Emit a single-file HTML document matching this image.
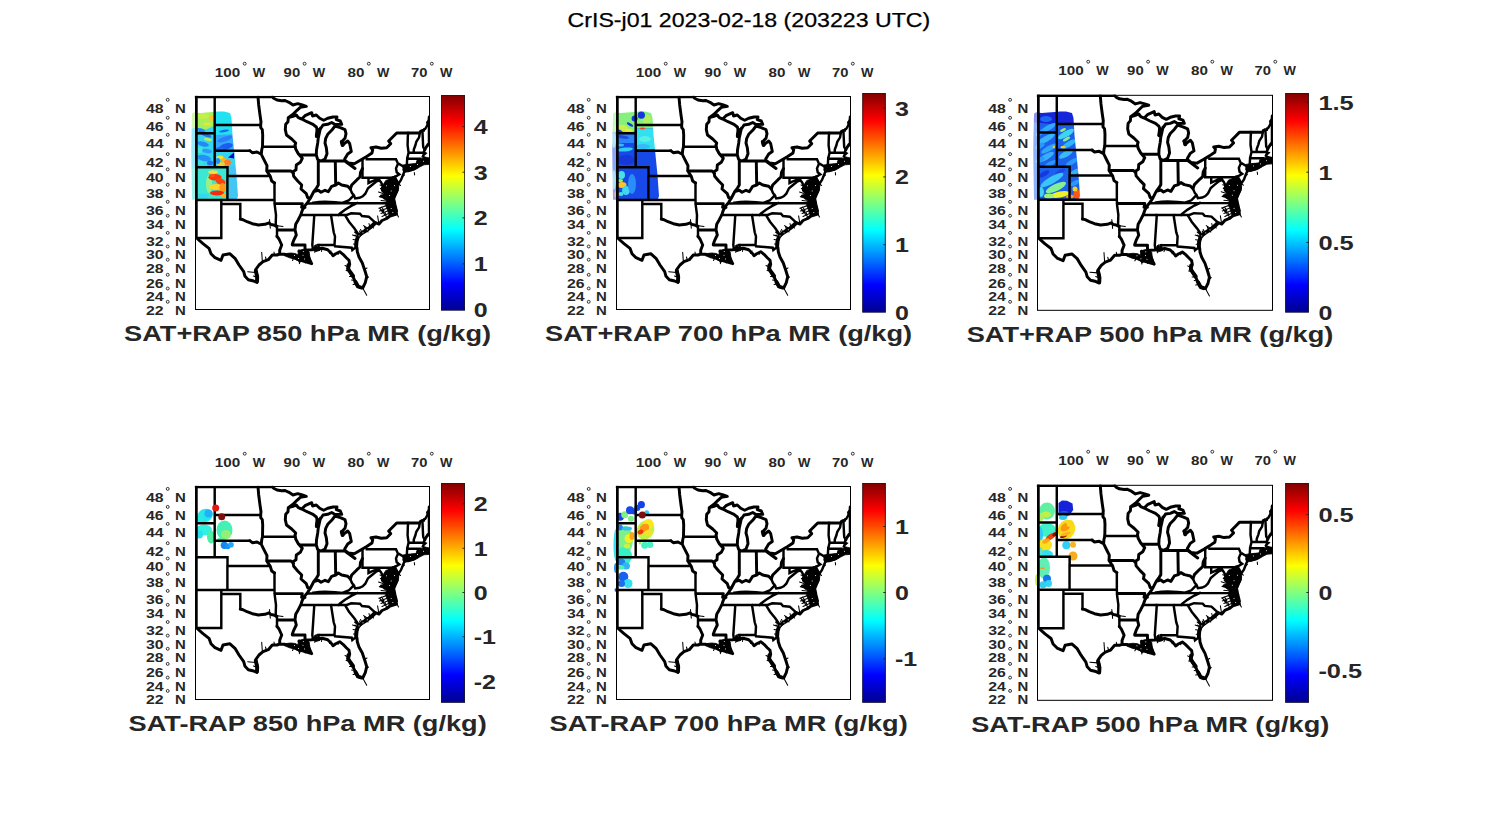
<!DOCTYPE html>
<html><head><meta charset="utf-8"><title>CrIS-j01</title>
<style>html,body{margin:0;padding:0;background:#fff}svg{display:block}</style></head><body>
<svg width="1500" height="825" viewBox="0 0 1500 825" style="font-family:'Liberation Sans',sans-serif">
<defs>
<linearGradient id="jet" x1="0" y1="1" x2="0" y2="0"><stop offset="0" stop-color="#00008f"/><stop offset="0.125" stop-color="#0000ff"/><stop offset="0.25" stop-color="#0080ff"/><stop offset="0.375" stop-color="#00ffff"/><stop offset="0.5" stop-color="#80ff80"/><stop offset="0.625" stop-color="#ffff00"/><stop offset="0.75" stop-color="#ff8000"/><stop offset="0.875" stop-color="#ff0000"/><stop offset="1" stop-color="#800000"/></linearGradient>
<filter id="b1" x="-20%" y="-20%" width="140%" height="140%"><feGaussianBlur stdDeviation="0.7"/></filter>
<filter id="b2" x="-20%" y="-20%" width="140%" height="140%"><feGaussianBlur stdDeviation="0.4"/></filter>
<clipPath id="mc"><rect x="-0.2" y="0.8" width="235.2" height="214.2"/></clipPath>
<g id="usmap" fill="none" stroke="#000" stroke-linejoin="miter" stroke-miterlimit="2" stroke-linecap="butt">
<g clip-path="url(#mc)">
<path stroke-width="2.45" stroke-linecap="square" d="M1.5 1.5 L1.5 143 M0.5 1.9 L77.5 1.9 M19.7 1.9 L19.7 72.3 M1.5 38.3 L19.7 38.3 M19.7 30 L65.7 30 M19.7 55.7 L54.7 55.7 M79.5 88 L79.5 105 L79.7 110 L81 120 L80.7 129.3 L81.5 131.3 L82 131.3 L82 141.3 M67.5 51.7 L100 51.7 M1.5 72.3 L32.5 72.3 L32.5 81 L74.5 81 M32.4 81 L32.4 105 M1.5 105 L79.5 105 M26.3 105 L26.3 143 L1.5 143 M26.3 109 L45.3 109 L45.3 124 M167.5 64.3 L167.5 82.7 L197 82.7 M171.7 64.3 L201 64.3 L203 68.7 L201 73.3 L201.7 77.3 L204.3 79.3 L199.7 82 L197 82.7 M155.3 94 L157 98 L158.8 100.3 M158.8 100.3 L160.2 103.4 L164.5 102.8 L167.7 101.3 L170.3 98.7 L173 93.3 L177 90 L181 86.7 L184.3 85.3 M173.5 82.7 L173.5 88 L176.3 86.7 L181 84.7 L184.3 85.3 M184.3 85.3 L186 87.3 L188 91.3 L187 94 L190 96.7 L194.5 96.7 M158.8 100.3 L153.7 105.5 L148 107.7 M112.5 108.4 L148 108.2 L198 108.3 M118.5 107.6 L124 106.9 L130 106.7 L140 107.2 L148 108 M162 108.2 L156.7 110.7 L150 114.7 L144.7 118.7 L143.5 120 M106 120 L151.7 120 L156.3 118.3 L165 118.7 L167 121 L173.7 121.7 L180.3 127.7 M119.3 120 L117.3 150 L118 154.5 M136 120 L138.7 137.3 L140 141.3 L139.5 150 M123.3 150 L139.5 150 M123.3 150 L124 154.5 M139.5 150 L140 151.3 L156.7 152.7 L157.3 155 L159 153.5 L161.5 152.5 M150.5 121 L154 126.7 L159.3 133.3 L162.6 138 L163.5 141 M199.7 82 L202 86 L203.1 89.2 L206 85 L208 80 L209.3 76.8 L209 74.8 L209.6 72.3 M204.7 69.3 L209.6 72.3 M213.1 38 L212.8 42.4 L212.6 50.3 L213.6 57.6 L212.2 63.5 L211.8 69.8 L211.2 72.3 M224.8 38 L224.1 42.4 L221.3 46.8 L220.4 50.3 L218.8 54.6 L218.7 57.7 M213.6 57.7 L229 57.7 L230.4 58.4 L228.5 60.1 L227.9 61.4 L229.8 63.1 L230.1 64.4 L231.1 65.8 L234.2 66 M212.2 63.6 L222.9 63.8 L225.5 63.8 L225.5 64.8 L226.7 66.9 L227.3 68.1 M222.9 63.8 L222.9 69.6 M231.1 65.8 L229.8 67.7 L227.3 68.1 L225.4 68.6 L222.9 69.6 M225.4 68.6 L225.7 66 M234.2 64.8 L233 63.5 L233.9 65.6 M227.4 35.3 L227.7 41.5 L228 48.5 L228.2 52 L229.8 54.8 L229 56.5 L229 57.7 M224.8 38 L225.4 36.1 L227.4 35.3 L228.9 35.5 L229.2 34.3 L230.1 34 L231.7 31.3 L232.6 29.5 L232.3 27.3 L233.9 25.3 L234.3 22.7"/>
<path stroke-width="2.95" stroke-linejoin="round" stroke-linecap="round" d="M63 1.9 L63.7 10 L65 20 L66 26.7 L65.7 30 L65.7 32.7 L67.3 34.7 L67.7 40 L67.5 51.7 L66.7 55 L66.3 59.3 M54.7 55.7 L57.3 57.7 L62 57 L66.3 59.3 L69.3 65.3 L72 70.7 L71.7 76 L75.3 81.3 L76.7 86 L79.5 88 M82 141.3 L84 144 L86.7 150 L84.7 155.3 L84.7 159.3 M45.3 124 L48 124.7 L52 126.7 L57.3 128.7 L63.3 130 L70 129.3 L74 127.8 L76 129.5 L78.7 130 L81.5 131.3 M2.7 144 L8 148.7 L14 153.3 L16 158.7 L20 162.7 L26 165.3 L28 160 L34.7 158.7 L40 163.3 L44 170 L48.7 176.7 L50 181.3 L53.3 184.7 L58.7 186 L62 187.5 M62 187.5 L62.3 181.3 L60.7 174.7 L64 170 L68 166.7 L73.3 164.7 L77.3 160 L82 160 L84.7 159 L90 159.3 L94.7 160.7 L100 162.7 L103.3 164.7 L110 166.7 L116.7 168.7 L113.3 162 L112 156.7 L110 155.3 L116.7 154.7 L120 154 L121.3 154 L127.3 153.3 L132.7 154.7 L136.7 158.7 L138 160.7 L140.7 158.7 L144.7 156.7 L148 159.3 L151.3 162.7 L154 165.3 L154.7 169.3 L153 173.5 L155.3 177.3 L158.3 182.3 L160 186 L163 191.7 L167.7 193 L170.3 187.7 L171.7 181.7 L170 176 L167.3 168 L164 162 L162.3 156.7 L162 153 L161 151 L161.3 146 L162.8 142 L165.3 139.5 L169 136.8 L173 134 L177 131 L180.3 127.7 L184 129 L187 125.5 L191.7 123.5 L195 121 L201.5 119 L200.5 114 L198 108.3 L196.5 105 M104 156 L108 157.5 L112 158.5 L115 165 M98 161.5 L104 162.5 L110 164.5 L114 166.5 M105 159.5 L111 161.5 L114 163.5 M106 156.5 L110 160 L113 165.5 M100 50 L100.7 54 L103.3 58.7 L107.3 63.3 L105.3 67.3 L101.3 70 L101 74.7 L98 76.7 L98.7 81.3 L102.7 86 L106.7 90 L106 94 L111.3 98.7 L112.7 102.7 L115.3 103.3 L112.7 107.3 L110 110.7 L107.3 115.3 L106 119.3 L103.3 124.7 L100.7 129.3 L100 134.7 L101.3 140 L98.7 145.3 L97.3 149.3 L97.3 150 L110 150 L110 155.3 M71.7 76 L96 76 L98.5 78.5 M80 108.6 L107.3 108.6 L106.6 112.4 L110 112.4 M82.7 135 L100 135 M105.3 60 L121.3 60 M100 51 L100.7 48 L96.7 44 L91.5 40 L90.3 34.7 L90.7 29.3 L93 26.7 L93.3 22.7 M93.3 22.7 L98 19.3 L102 15.3 L105.3 12.3 L111.3 11.3 L107.3 10 L102.7 8.7 L98 10 L94 7.3 L90 5.5 L86.7 5.7 L82 5 L78.7 3.3 L77.5 1.9 M93.3 22.7 L98 21.3 L101.3 20 L103.3 22.7 L106.7 24 L110 20.7 L116.7 17.7 L117.5 21 L121.3 20 L124.7 23.3 L128.7 25.3 L132.7 23.3 L138 22 L142 22 L141.3 24.7 L145.3 26 L146.7 29.3 L142 29.5 L140 29.5 L136.7 27.5 L132.7 29.3 L128 30 L126 33 L123 37 M100.5 20.5 L102.5 21.5 M106.7 24 L112 26.7 L118 29.3 L121.3 32 L122.7 36 L121.5 41.3 L123.5 42 L125.5 33 L124 38 L123.3 42.7 L122.7 48 L121.5 55 L121.3 60 L122.7 64.7 L126 66 L130 64 L132 58.7 L131.3 52.7 L130 48 L130.7 43.3 L132.7 39.3 L136.7 35.3 L140 31 L145.3 32.7 L150 34.7 L151 38.7 L150 43.3 L146.7 46.7 L147.5 50 L150 48 L152.7 46 L154.7 48.7 L156 55 L156.3 56.5 L152.7 59 L149.7 64 L150 65.3 M146.5 47 L148 49.5 M150 65.3 L153.3 68 L159.3 68.7 L165.3 65.3 L171.7 61.5 L177 58 L177.7 54.7 L176 52.7 L181 52 L186.3 53.3 L191.7 52.7 L195.7 48.7 L193.7 46 L197.7 42 L201.7 38 L224.8 38 M123.3 66 L148.7 66 L150 65.3 M123.3 66 L123.3 90 L121.3 93.3 L118.7 96.7 M140.3 66 L140.7 90 M115.3 103.3 L118.7 96.7 L123.3 95.3 L126 97.3 L130 95.3 L133.3 96.7 L136.7 91.3 L140.7 90 L143.3 88 L146.7 90 L152.7 91.3 L155.3 94 L156.7 90 L162 84.7 L165 82 L165.5 77.5 L167.5 73.5 M150.5 66.5 L160 73.5 M197.7 82.7 L197.7 93.1 L202.4 93.1 M199.7 82 L200 86 L201.5 90 L202.4 93.1 L201 98 L199 103 L196.6 104 M196.6 104 L196 99 L195 95 L194.5 90 L195.5 86 L196 83.5 M195.5 84.5 L193 87 L192.5 91 L193 95 L194.5 96.7 L194 100 L195 104 L196.5 106 M194 100 L190 101.5 L186.5 101 M194.2 98.5 L190 98 L187.5 95.5 M193 93 L189.5 92.5 M195 88 L196.5 92 L197.5 97 L198 101 M193.5 102 L196 102.5 L198.5 105 M209 74.8 L213 75.8 L218 74.3 L222.5 71.7 L218 72.5 L213 72.8 L210.5 73.3 M211.2 72.3 L214 70.8 L218 70.1 L222.9 69.6 L226 69 L227.3 68.1 M210 74 L216 73.8 L221 72.3 M212 71.5 L217 71.2 L222 70.5 M229.8 54.8 L230.7 52.9 L232.3 50.7 L233 49.4 L234.3 48.4 M234.2 22 L234.2 50"/>
<path stroke-width="3.9" stroke-linejoin="round" stroke-linecap="round" d="M179.5 128.5 L176.5 131.5 L172.5 134.5 L168.5 137 L165 139.5 L162.8 142 L161.5 146.5 L161.2 151 M153.5 170 L153.2 174 L155.5 177.5 L158 181 M160.5 187 L163 191.5 L166 192.5 M122.5 35 L121.8 41 M60.8 176 L62.2 182 L62 186.5 M146.8 46.8 L147.6 50 M198.5 105 L199.5 110 L201 116"/>
<path stroke-width="1.05" stroke-linecap="round" d="M82 130.8 L88 131.4 M183.8 113.2 L190.5 111 M184.5 116 L191.5 113.5 M186 118.5 L192.5 116 M187 121.5 L193.5 118.5 M189.5 123.8 L194.5 121 M186.5 112 L189 115.5 M188 115 L189.5 120 M190 117 L191.5 122.5 M185.5 114.5 L188 118 M157.5 140 L162 141.5 M158 144.5 L161.5 145 M158.5 149 L161 149 M159.5 137 L163 140 M165.5 134.5 L167.5 138.5 M169.5 131.5 L171 136 M174 128.5 L175 133 M160.5 136.5 L164 139.5 M185.4 93.5 L190 95 M185 90 L189 91.5 M184.3 101.7 L191 103.2 M183.5 97 L188 98.5 M186 105.5 L191 106 M168.6 130.6 L173.5 133.8 M182.6 120.9 L183.8 128.4 M184.5 113.2 L189 117.5 M164.5 136 L166.2 139.2 M160 140 L162.5 142 M184.3 101.7 L188.5 99.5 M184.3 113.2 L190 111 M201.7 118.6 L203.5 122 M199 112 L201.5 118 M150 170.5 L153 172 M151 175.5 L154 176 M154.5 181.5 L157.5 181.5 M156.5 185 L159.5 185.5 M158 189.5 L161.5 189 M104.4 168.6 L104.4 165 M110.2 168 L111 165 M116.7 169.5 L114.5 165 M97.5 165.5 L99 162.5 M119.8 157.5 L120.5 154 M126.5 156.5 L127 153.5 M134.5 158.5 L136 156 M143 159.5 L144.5 156.5 M66.7 157.3 L67.3 165.8 M52.7 176.7 L60.5 177.4 M74.5 124.5 L75.3 133.3 M58.5 181 L62 182.5 M70.5 162 L71.5 166 M79 157 L79.5 160.5 M167.7 193 L171.7 200.3 M150.5 66.5 L160 73.7 M172 173 L169 174.5 M173.5 182 L171 184 M176 130 L178.5 133 M171 133.5 L173 137 M205.5 90.5 L203 88.5 M206.5 82 L209.5 80 M219.3 77.5 L219.6 80 M196.5 112 L193.5 114.5"/>
<path fill="#000" stroke-width="0.8" stroke-linejoin="round" d="M190.8 85.4 L196.8 83.4 L200 84 L203 86.5 L203.9 89.2 L203.4 95.7 L201.2 99.5 L197.9 103.4 L196.8 106.1 L197.6 108.5 L191 108.5 L191.4 105.5 L187.5 103 L189.2 97.9 L185.8 93.5 L188.1 89.7Z M191 108.5 L197.6 108.5 L199 112.1 L201.2 116 L201.9 119.3 L197.5 120.3 L194.5 121.5 L193.2 117.5 L191.8 113 L190.5 110.5Z M207.7 70 L212.8 69.2 L221 68.6 L222 65.5 L226.4 63.8 L230 62 L234.3 63 L234.3 69.4 L229 69.8 L224.7 72 L219.6 75 L214.1 76.2 L210.5 77.3 L209 77.5 L208 74Z M103.3 155.9 L106.9 154.5 L110.9 154.1 L114.2 157 L114.9 162.5 L116.7 169 L112 166.5 L107.6 165.7 L104.4 167.6 L103.3 165.7 L98.9 163.9 L94.5 162.8 L89.1 160.6 L89.1 159.3 L92.7 158.3 L96 158 L100.4 158.5 L103 160Z M119.5 150.5 L121.5 149.5 L122.5 153 L125 155.3 L121 156.6 L118 155.5Z"/>
<g fill="#fff" stroke="none"><rect x="191.05" y="90.35" width="0.9" height="0.9"/><rect x="199.15" y="90.15" width="0.9" height="0.9"/><rect x="194.05" y="100.05" width="0.9" height="0.9"/><rect x="195.75" y="95.55" width="0.9" height="0.9"/><rect x="195.75" y="113.05" width="0.9" height="0.9"/><rect x="197.35" y="117.05" width="0.9" height="0.9"/><rect x="215.05" y="71.05" width="0.9" height="0.9"/><rect x="222.05" y="69.05" width="0.9" height="0.9"/><rect x="228.05" y="65.85" width="0.9" height="0.9"/><rect x="99.05" y="160.05" width="0.9" height="0.9"/><rect x="107.55" y="159.85" width="0.9" height="0.9"/><rect x="107.85" y="156.15" width="0.9" height="0.9"/><rect x="109.05" y="163.55" width="0.9" height="0.9"/><rect x="103.05" y="163.05" width="0.9" height="0.9"/><rect x="167.55" y="137.35" width="0.9" height="0.9"/><rect x="163.55" y="140.35" width="0.9" height="0.9"/><rect x="171.85" y="134.35" width="0.9" height="0.9"/></g>
</g>
<rect x="0.5" y="1.5" width="234" height="213" stroke-width="1" stroke-linejoin="miter"/>
</g>
</defs>
<rect width="1500" height="825" fill="#fff"/>
<text stroke="#000" stroke-width="0.25" x="567.6" y="27" font-size="20.4" fill="#000" textLength="362.6" lengthAdjust="spacingAndGlyphs">CrIS-j01 2023-02-18 (203223 UTC)</text>
<g><defs><clipPath id="sw1"><polygon points="192,114 194,112.6 200,113 206,112.5 213,112 218,111.5 224,111.5 230,113 231.5,118 232.5,135 234.5,155 236.5,175 238,196 237,199 192,199.5 191.5,150" fill="#000"/></clipPath></defs><g clip-path="url(#sw1)"><g filter="url(#b1)"><polygon points="188,108 242,108 242,203 188,203" fill="#35d4f2"/><polygon points="188,108 214,108 214,126 206,129.5 197,127.5 188,129" fill="#a6f05c"/><ellipse cx="203" cy="116" rx="6" ry="3" fill="#c4f048"/><ellipse cx="211.5" cy="118" rx="2" ry="3" fill="#ffc428"/><ellipse cx="207" cy="124" rx="4" ry="1.6" fill="#e8e830"/><polygon points="216,108 240,108 240,134 216,135" fill="#22e2f2"/><ellipse cx="205" cy="134" rx="7" ry="2.2" fill="#2070f0" transform="rotate(25 205 134)"/><ellipse cx="201" cy="130" rx="4" ry="1.5" fill="#2888f0" transform="rotate(20 201 130)"/><ellipse cx="208" cy="139.5" rx="4" ry="1.5" fill="#b8f058" transform="rotate(10 208 139.5)"/><ellipse cx="203" cy="144" rx="6" ry="2.2" fill="#2488f4" transform="rotate(15 203 144)"/><ellipse cx="199" cy="150" rx="4" ry="3" fill="#40e8d8"/><ellipse cx="207" cy="151" rx="5" ry="2" fill="#2c9cf8" transform="rotate(10 207 151)"/><ellipse cx="204" cy="158" rx="7" ry="3" fill="#2890f8" transform="rotate(10 204 158)"/><ellipse cx="199" cy="163" rx="4" ry="2.5" fill="#38e0e0"/><ellipse cx="210" cy="163" rx="3" ry="2.5" fill="#2478f0"/><polygon points="216,135 240,134 240,151 216,151" fill="#34a8fc"/><ellipse cx="224" cy="131" rx="5" ry="1.2" fill="#1870e8" transform="rotate(-10 224 131)"/><ellipse cx="225" cy="139" rx="8" ry="2.4" fill="#2c80f8" transform="rotate(-20 225 139)"/><ellipse cx="226" cy="146.5" rx="7" ry="3" fill="#1a5cf0" transform="rotate(-15 226 146.5)"/><ellipse cx="220" cy="149" rx="4" ry="2" fill="#2468f0"/><ellipse cx="220" cy="157.5" rx="3.5" ry="2" fill="#f0e434"/><ellipse cx="224" cy="160" rx="3" ry="2" fill="#ffb020"/><ellipse cx="227.5" cy="162.5" rx="3.5" ry="3" fill="#ff7c20"/><ellipse cx="221" cy="164" rx="4" ry="2" fill="#f0d030"/><ellipse cx="218" cy="161" rx="2" ry="3" fill="#2c8cf8"/><polygon points="228,157.5 234.8,151.8 234,158.5" fill="#0c0cc0"/><polygon points="188,168 228,168 228,203 188,203" fill="#3ce8d2"/><ellipse cx="209" cy="184" rx="3" ry="9" fill="#98f088"/><ellipse cx="215" cy="177.3" rx="6.5" ry="3.2" fill="#ff3408"/><ellipse cx="212" cy="175.5" rx="3" ry="1.6" fill="#ff5010"/><ellipse cx="220.5" cy="181.5" rx="5.2" ry="3.2" fill="#ff4008" transform="rotate(20 220.5 181.5)"/><ellipse cx="216" cy="187" rx="7" ry="3" fill="#ffd424"/><ellipse cx="222.5" cy="188" rx="3" ry="5" fill="#ff9414"/><ellipse cx="217" cy="193" rx="7" ry="2.5" fill="#f82c08"/><ellipse cx="224" cy="195.5" rx="2.5" ry="2" fill="#ffb020"/><ellipse cx="213" cy="172" rx="5" ry="1.8" fill="#f0e040"/><ellipse cx="203" cy="196" rx="6" ry="2.5" fill="#36d8f0"/><polygon points="229,166 242,166 242,203 229,203" fill="#42c6f4"/></g><rect x="188" y="105" width="7.3" height="100" fill="#fff" fill-opacity="0.5"/></g></g>
<use href="#usmap" transform="translate(195 95) scale(1.00000 1.00000)"/>
<g></g>
<rect x="441" y="95" width="24" height="215.5" fill="url(#jet)"/>
<rect x="441.5" y="95.5" width="23" height="214.5" fill="none" stroke="#1a1a1a" stroke-opacity="0.8" stroke-width="1"/>
<path d="M462.4 126.6h2.6" stroke="#222" stroke-width="0.9"/>
<text x="473.7" y="134.1" font-size="20.4" font-weight="bold" fill="#262626" textLength="13.9" lengthAdjust="spacingAndGlyphs">4</text>
<path d="M462.4 172.2h2.6" stroke="#222" stroke-width="0.9"/>
<text x="473.7" y="179.7" font-size="20.4" font-weight="bold" fill="#262626" textLength="13.9" lengthAdjust="spacingAndGlyphs">3</text>
<path d="M462.4 217.9h2.6" stroke="#222" stroke-width="0.9"/>
<text x="473.7" y="225.4" font-size="20.4" font-weight="bold" fill="#262626" textLength="13.9" lengthAdjust="spacingAndGlyphs">2</text>
<path d="M462.4 263.9h2.6" stroke="#222" stroke-width="0.9"/>
<text x="473.7" y="271.4" font-size="20.4" font-weight="bold" fill="#262626" textLength="13.9" lengthAdjust="spacingAndGlyphs">1</text>
<text x="473.7" y="317.2" font-size="20.4" font-weight="bold" fill="#262626" textLength="13.9" lengthAdjust="spacingAndGlyphs">0</text>
<text x="214.8" y="77" font-size="12.2" font-weight="bold" fill="#262626" textLength="25.5" lengthAdjust="spacingAndGlyphs">100</text>
<circle cx="244.7" cy="63.7" r="1.45" fill="none" stroke="#262626" stroke-width="0.95"/>
<text x="252.8" y="77" font-size="12.2" font-weight="bold" fill="#262626" textLength="12.4" lengthAdjust="spacingAndGlyphs">W</text>
<text x="283.6" y="77" font-size="12.2" font-weight="bold" fill="#262626" textLength="16.6" lengthAdjust="spacingAndGlyphs">90</text>
<circle cx="304.6" cy="63.7" r="1.45" fill="none" stroke="#262626" stroke-width="0.95"/>
<text x="312.7" y="77" font-size="12.2" font-weight="bold" fill="#262626" textLength="12.4" lengthAdjust="spacingAndGlyphs">W</text>
<text x="347.5" y="77" font-size="12.2" font-weight="bold" fill="#262626" textLength="16.9" lengthAdjust="spacingAndGlyphs">80</text>
<circle cx="368.8" cy="63.7" r="1.45" fill="none" stroke="#262626" stroke-width="0.95"/>
<text x="376.9" y="77" font-size="12.2" font-weight="bold" fill="#262626" textLength="12.4" lengthAdjust="spacingAndGlyphs">W</text>
<text x="411" y="77" font-size="12.2" font-weight="bold" fill="#262626" textLength="16.4" lengthAdjust="spacingAndGlyphs">70</text>
<circle cx="431.8" cy="63.7" r="1.45" fill="none" stroke="#262626" stroke-width="0.95"/>
<text x="439.9" y="77" font-size="12.2" font-weight="bold" fill="#262626" textLength="12.4" lengthAdjust="spacingAndGlyphs">W</text>
<text x="145.9" y="112.7" font-size="12.2" font-weight="bold" fill="#262626" textLength="17.6" lengthAdjust="spacingAndGlyphs">48</text>
<circle cx="167.7" cy="99.8" r="1.45" fill="none" stroke="#262626" stroke-width="0.95"/>
<text x="175" y="112.7" font-size="12.2" font-weight="bold" fill="#262626" textLength="10.8" lengthAdjust="spacingAndGlyphs">N</text>
<text x="145.9" y="130.7" font-size="12.2" font-weight="bold" fill="#262626" textLength="17.6" lengthAdjust="spacingAndGlyphs">46</text>
<circle cx="167.7" cy="117.8" r="1.45" fill="none" stroke="#262626" stroke-width="0.95"/>
<text x="175" y="130.7" font-size="12.2" font-weight="bold" fill="#262626" textLength="10.8" lengthAdjust="spacingAndGlyphs">N</text>
<text x="145.9" y="147.7" font-size="12.2" font-weight="bold" fill="#262626" textLength="17.6" lengthAdjust="spacingAndGlyphs">44</text>
<circle cx="167.7" cy="134.8" r="1.45" fill="none" stroke="#262626" stroke-width="0.95"/>
<text x="175" y="147.7" font-size="12.2" font-weight="bold" fill="#262626" textLength="10.8" lengthAdjust="spacingAndGlyphs">N</text>
<text x="145.9" y="167" font-size="12.2" font-weight="bold" fill="#262626" textLength="17.6" lengthAdjust="spacingAndGlyphs">42</text>
<circle cx="167.7" cy="154.1" r="1.45" fill="none" stroke="#262626" stroke-width="0.95"/>
<text x="175" y="167" font-size="12.2" font-weight="bold" fill="#262626" textLength="10.8" lengthAdjust="spacingAndGlyphs">N</text>
<text x="145.9" y="182.3" font-size="12.2" font-weight="bold" fill="#262626" textLength="17.6" lengthAdjust="spacingAndGlyphs">40</text>
<circle cx="167.7" cy="169.4" r="1.45" fill="none" stroke="#262626" stroke-width="0.95"/>
<text x="175" y="182.3" font-size="12.2" font-weight="bold" fill="#262626" textLength="10.8" lengthAdjust="spacingAndGlyphs">N</text>
<text x="145.9" y="197.7" font-size="12.2" font-weight="bold" fill="#262626" textLength="17.6" lengthAdjust="spacingAndGlyphs">38</text>
<circle cx="167.7" cy="184.8" r="1.45" fill="none" stroke="#262626" stroke-width="0.95"/>
<text x="175" y="197.7" font-size="12.2" font-weight="bold" fill="#262626" textLength="10.8" lengthAdjust="spacingAndGlyphs">N</text>
<text x="145.9" y="214.7" font-size="12.2" font-weight="bold" fill="#262626" textLength="17.6" lengthAdjust="spacingAndGlyphs">36</text>
<circle cx="167.7" cy="201.8" r="1.45" fill="none" stroke="#262626" stroke-width="0.95"/>
<text x="175" y="214.7" font-size="12.2" font-weight="bold" fill="#262626" textLength="10.8" lengthAdjust="spacingAndGlyphs">N</text>
<text x="145.9" y="228.6" font-size="12.2" font-weight="bold" fill="#262626" textLength="17.6" lengthAdjust="spacingAndGlyphs">34</text>
<circle cx="167.7" cy="215.7" r="1.45" fill="none" stroke="#262626" stroke-width="0.95"/>
<text x="175" y="228.6" font-size="12.2" font-weight="bold" fill="#262626" textLength="10.8" lengthAdjust="spacingAndGlyphs">N</text>
<text x="145.9" y="245.8" font-size="12.2" font-weight="bold" fill="#262626" textLength="17.6" lengthAdjust="spacingAndGlyphs">32</text>
<circle cx="167.7" cy="232.9" r="1.45" fill="none" stroke="#262626" stroke-width="0.95"/>
<text x="175" y="245.8" font-size="12.2" font-weight="bold" fill="#262626" textLength="10.8" lengthAdjust="spacingAndGlyphs">N</text>
<text x="145.9" y="259.4" font-size="12.2" font-weight="bold" fill="#262626" textLength="17.6" lengthAdjust="spacingAndGlyphs">30</text>
<circle cx="167.7" cy="246.5" r="1.45" fill="none" stroke="#262626" stroke-width="0.95"/>
<text x="175" y="259.4" font-size="12.2" font-weight="bold" fill="#262626" textLength="10.8" lengthAdjust="spacingAndGlyphs">N</text>
<text x="145.9" y="272.6" font-size="12.2" font-weight="bold" fill="#262626" textLength="17.6" lengthAdjust="spacingAndGlyphs">28</text>
<circle cx="167.7" cy="259.7" r="1.45" fill="none" stroke="#262626" stroke-width="0.95"/>
<text x="175" y="272.6" font-size="12.2" font-weight="bold" fill="#262626" textLength="10.8" lengthAdjust="spacingAndGlyphs">N</text>
<text x="145.9" y="287.7" font-size="12.2" font-weight="bold" fill="#262626" textLength="17.6" lengthAdjust="spacingAndGlyphs">26</text>
<circle cx="167.7" cy="274.8" r="1.45" fill="none" stroke="#262626" stroke-width="0.95"/>
<text x="175" y="287.7" font-size="12.2" font-weight="bold" fill="#262626" textLength="10.8" lengthAdjust="spacingAndGlyphs">N</text>
<text x="145.9" y="301.4" font-size="12.2" font-weight="bold" fill="#262626" textLength="17.6" lengthAdjust="spacingAndGlyphs">24</text>
<circle cx="167.7" cy="288.5" r="1.45" fill="none" stroke="#262626" stroke-width="0.95"/>
<text x="175" y="301.4" font-size="12.2" font-weight="bold" fill="#262626" textLength="10.8" lengthAdjust="spacingAndGlyphs">N</text>
<text x="145.9" y="314.7" font-size="12.2" font-weight="bold" fill="#262626" textLength="17.6" lengthAdjust="spacingAndGlyphs">22</text>
<circle cx="167.7" cy="301.8" r="1.45" fill="none" stroke="#262626" stroke-width="0.95"/>
<text x="175" y="314.7" font-size="12.2" font-weight="bold" fill="#262626" textLength="10.8" lengthAdjust="spacingAndGlyphs">N</text>
<text x="124.1" y="340.7" font-size="22.4" font-weight="bold" fill="#262626" textLength="367.1" lengthAdjust="spacingAndGlyphs">SAT+RAP 850 hPa MR (g/kg)</text>
<g><defs><clipPath id="sw2"><polygon points="613,114 615,112.6 621,113 627,112.5 634,112 639,111.5 645,111.5 651,113 652.5,118 653.5,135 655.5,155 657.5,175 659,196 658,199 613,199.5 612.5,150" fill="#000"/></clipPath></defs><g clip-path="url(#sw2)"><g filter="url(#b1)"><polygon points="609,108 663,108 663,203 609,203" fill="#184ae8"/><polygon points="609,108 663,108 663,128.5 637,128.5 634,132 609,132.5" fill="#86f07c"/><ellipse cx="621" cy="128" rx="7" ry="3.2" fill="#c8f044"/><ellipse cx="628.5" cy="130.2" rx="4" ry="1.5" fill="#f0e834"/><ellipse cx="647" cy="120" rx="4" ry="5" fill="#b0f060"/><polygon points="637,128.5 660,128.5 660,149 637,149" fill="#30e0f2"/><ellipse cx="645" cy="139" rx="6" ry="3" fill="#58f0e4"/><ellipse cx="643" cy="146.5" rx="7" ry="2.5" fill="#38b8f8"/><polygon points="610,134 634,134 634,143 610,143" fill="#2c84f8"/><ellipse cx="623" cy="137" rx="6" ry="1.6" fill="#1a48e0" transform="rotate(10 623 137)"/><ellipse cx="625" cy="149.5" rx="8" ry="2" fill="#30ccf2" transform="rotate(-5 625 149.5)"/><ellipse cx="620" cy="145" rx="4" ry="1.5" fill="#34b8f4"/><ellipse cx="626" cy="160" rx="9" ry="5" fill="#1438d8"/><ellipse cx="621.5" cy="175" rx="3.5" ry="4" fill="#44e2e8"/><ellipse cx="620" cy="180.5" rx="3" ry="1.5" fill="#98f070"/><ellipse cx="622" cy="185" rx="4.5" ry="3" fill="#ffc424"/><ellipse cx="626" cy="190.5" rx="4" ry="4.5" fill="#40d6f0"/><ellipse cx="616.5" cy="194.5" rx="2.2" ry="3.5" fill="#ff6410"/><ellipse cx="621" cy="194" rx="2.5" ry="2" fill="#40e0e0"/><ellipse cx="632" cy="184" rx="4" ry="10" fill="#2c8ef8"/><ellipse cx="614" cy="140" rx="2" ry="8" fill="#60c8f0"/><ellipse cx="614" cy="180" rx="2" ry="10" fill="#50c0f0"/></g><rect x="609" y="105" width="7.3" height="100" fill="#fff" fill-opacity="0.5"/></g><g filter="url(#b2)"><ellipse cx="641.3" cy="115.2" rx="3.6" ry="3.6" fill="#1234e0"/><ellipse cx="634.6" cy="118.6" rx="3" ry="3" fill="#1838e0"/><ellipse cx="630" cy="124.6" rx="3.6" ry="1.3" fill="#1838e0" transform="rotate(30 630 124.6)"/><ellipse cx="619.5" cy="131" rx="3.2" ry="1.3" fill="#1838e0" transform="rotate(20 619.5 131)"/><ellipse cx="642.5" cy="128.4" rx="2.6" ry="1" fill="#f04820"/></g></g>
<use href="#usmap" transform="translate(616 95) scale(1.00000 1.00000)"/>
<g></g>
<rect x="862.3" y="93" width="23.5" height="219.5" fill="url(#jet)"/>
<rect x="862.8" y="93.5" width="22.5" height="218.5" fill="none" stroke="#1a1a1a" stroke-opacity="0.8" stroke-width="1"/>
<path d="M883.2 108h2.6" stroke="#222" stroke-width="0.9"/>
<text x="894.9" y="115.5" font-size="20.4" font-weight="bold" fill="#262626" textLength="13.9" lengthAdjust="spacingAndGlyphs">3</text>
<path d="M883.2 176.9h2.6" stroke="#222" stroke-width="0.9"/>
<text x="894.9" y="184.4" font-size="20.4" font-weight="bold" fill="#262626" textLength="13.9" lengthAdjust="spacingAndGlyphs">2</text>
<path d="M883.2 244.7h2.6" stroke="#222" stroke-width="0.9"/>
<text x="894.9" y="252.2" font-size="20.4" font-weight="bold" fill="#262626" textLength="13.9" lengthAdjust="spacingAndGlyphs">1</text>
<text x="894.9" y="319.7" font-size="20.4" font-weight="bold" fill="#262626" textLength="13.9" lengthAdjust="spacingAndGlyphs">0</text>
<text x="635.8" y="77" font-size="12.2" font-weight="bold" fill="#262626" textLength="25.5" lengthAdjust="spacingAndGlyphs">100</text>
<circle cx="665.7" cy="63.7" r="1.45" fill="none" stroke="#262626" stroke-width="0.95"/>
<text x="673.8" y="77" font-size="12.2" font-weight="bold" fill="#262626" textLength="12.4" lengthAdjust="spacingAndGlyphs">W</text>
<text x="704.6" y="77" font-size="12.2" font-weight="bold" fill="#262626" textLength="16.6" lengthAdjust="spacingAndGlyphs">90</text>
<circle cx="725.6" cy="63.7" r="1.45" fill="none" stroke="#262626" stroke-width="0.95"/>
<text x="733.7" y="77" font-size="12.2" font-weight="bold" fill="#262626" textLength="12.4" lengthAdjust="spacingAndGlyphs">W</text>
<text x="768.5" y="77" font-size="12.2" font-weight="bold" fill="#262626" textLength="16.9" lengthAdjust="spacingAndGlyphs">80</text>
<circle cx="789.8" cy="63.7" r="1.45" fill="none" stroke="#262626" stroke-width="0.95"/>
<text x="797.9" y="77" font-size="12.2" font-weight="bold" fill="#262626" textLength="12.4" lengthAdjust="spacingAndGlyphs">W</text>
<text x="832" y="77" font-size="12.2" font-weight="bold" fill="#262626" textLength="16.4" lengthAdjust="spacingAndGlyphs">70</text>
<circle cx="852.8" cy="63.7" r="1.45" fill="none" stroke="#262626" stroke-width="0.95"/>
<text x="860.9" y="77" font-size="12.2" font-weight="bold" fill="#262626" textLength="12.4" lengthAdjust="spacingAndGlyphs">W</text>
<text x="566.9" y="112.7" font-size="12.2" font-weight="bold" fill="#262626" textLength="17.6" lengthAdjust="spacingAndGlyphs">48</text>
<circle cx="588.7" cy="99.8" r="1.45" fill="none" stroke="#262626" stroke-width="0.95"/>
<text x="596" y="112.7" font-size="12.2" font-weight="bold" fill="#262626" textLength="10.8" lengthAdjust="spacingAndGlyphs">N</text>
<text x="566.9" y="130.7" font-size="12.2" font-weight="bold" fill="#262626" textLength="17.6" lengthAdjust="spacingAndGlyphs">46</text>
<circle cx="588.7" cy="117.8" r="1.45" fill="none" stroke="#262626" stroke-width="0.95"/>
<text x="596" y="130.7" font-size="12.2" font-weight="bold" fill="#262626" textLength="10.8" lengthAdjust="spacingAndGlyphs">N</text>
<text x="566.9" y="147.7" font-size="12.2" font-weight="bold" fill="#262626" textLength="17.6" lengthAdjust="spacingAndGlyphs">44</text>
<circle cx="588.7" cy="134.8" r="1.45" fill="none" stroke="#262626" stroke-width="0.95"/>
<text x="596" y="147.7" font-size="12.2" font-weight="bold" fill="#262626" textLength="10.8" lengthAdjust="spacingAndGlyphs">N</text>
<text x="566.9" y="167" font-size="12.2" font-weight="bold" fill="#262626" textLength="17.6" lengthAdjust="spacingAndGlyphs">42</text>
<circle cx="588.7" cy="154.1" r="1.45" fill="none" stroke="#262626" stroke-width="0.95"/>
<text x="596" y="167" font-size="12.2" font-weight="bold" fill="#262626" textLength="10.8" lengthAdjust="spacingAndGlyphs">N</text>
<text x="566.9" y="182.3" font-size="12.2" font-weight="bold" fill="#262626" textLength="17.6" lengthAdjust="spacingAndGlyphs">40</text>
<circle cx="588.7" cy="169.4" r="1.45" fill="none" stroke="#262626" stroke-width="0.95"/>
<text x="596" y="182.3" font-size="12.2" font-weight="bold" fill="#262626" textLength="10.8" lengthAdjust="spacingAndGlyphs">N</text>
<text x="566.9" y="197.7" font-size="12.2" font-weight="bold" fill="#262626" textLength="17.6" lengthAdjust="spacingAndGlyphs">38</text>
<circle cx="588.7" cy="184.8" r="1.45" fill="none" stroke="#262626" stroke-width="0.95"/>
<text x="596" y="197.7" font-size="12.2" font-weight="bold" fill="#262626" textLength="10.8" lengthAdjust="spacingAndGlyphs">N</text>
<text x="566.9" y="214.7" font-size="12.2" font-weight="bold" fill="#262626" textLength="17.6" lengthAdjust="spacingAndGlyphs">36</text>
<circle cx="588.7" cy="201.8" r="1.45" fill="none" stroke="#262626" stroke-width="0.95"/>
<text x="596" y="214.7" font-size="12.2" font-weight="bold" fill="#262626" textLength="10.8" lengthAdjust="spacingAndGlyphs">N</text>
<text x="566.9" y="228.6" font-size="12.2" font-weight="bold" fill="#262626" textLength="17.6" lengthAdjust="spacingAndGlyphs">34</text>
<circle cx="588.7" cy="215.7" r="1.45" fill="none" stroke="#262626" stroke-width="0.95"/>
<text x="596" y="228.6" font-size="12.2" font-weight="bold" fill="#262626" textLength="10.8" lengthAdjust="spacingAndGlyphs">N</text>
<text x="566.9" y="245.8" font-size="12.2" font-weight="bold" fill="#262626" textLength="17.6" lengthAdjust="spacingAndGlyphs">32</text>
<circle cx="588.7" cy="232.9" r="1.45" fill="none" stroke="#262626" stroke-width="0.95"/>
<text x="596" y="245.8" font-size="12.2" font-weight="bold" fill="#262626" textLength="10.8" lengthAdjust="spacingAndGlyphs">N</text>
<text x="566.9" y="259.4" font-size="12.2" font-weight="bold" fill="#262626" textLength="17.6" lengthAdjust="spacingAndGlyphs">30</text>
<circle cx="588.7" cy="246.5" r="1.45" fill="none" stroke="#262626" stroke-width="0.95"/>
<text x="596" y="259.4" font-size="12.2" font-weight="bold" fill="#262626" textLength="10.8" lengthAdjust="spacingAndGlyphs">N</text>
<text x="566.9" y="272.6" font-size="12.2" font-weight="bold" fill="#262626" textLength="17.6" lengthAdjust="spacingAndGlyphs">28</text>
<circle cx="588.7" cy="259.7" r="1.45" fill="none" stroke="#262626" stroke-width="0.95"/>
<text x="596" y="272.6" font-size="12.2" font-weight="bold" fill="#262626" textLength="10.8" lengthAdjust="spacingAndGlyphs">N</text>
<text x="566.9" y="287.7" font-size="12.2" font-weight="bold" fill="#262626" textLength="17.6" lengthAdjust="spacingAndGlyphs">26</text>
<circle cx="588.7" cy="274.8" r="1.45" fill="none" stroke="#262626" stroke-width="0.95"/>
<text x="596" y="287.7" font-size="12.2" font-weight="bold" fill="#262626" textLength="10.8" lengthAdjust="spacingAndGlyphs">N</text>
<text x="566.9" y="301.4" font-size="12.2" font-weight="bold" fill="#262626" textLength="17.6" lengthAdjust="spacingAndGlyphs">24</text>
<circle cx="588.7" cy="288.5" r="1.45" fill="none" stroke="#262626" stroke-width="0.95"/>
<text x="596" y="301.4" font-size="12.2" font-weight="bold" fill="#262626" textLength="10.8" lengthAdjust="spacingAndGlyphs">N</text>
<text x="566.9" y="314.7" font-size="12.2" font-weight="bold" fill="#262626" textLength="17.6" lengthAdjust="spacingAndGlyphs">22</text>
<circle cx="588.7" cy="301.8" r="1.45" fill="none" stroke="#262626" stroke-width="0.95"/>
<text x="596" y="314.7" font-size="12.2" font-weight="bold" fill="#262626" textLength="10.8" lengthAdjust="spacingAndGlyphs">N</text>
<text x="545.1" y="340.7" font-size="22.4" font-weight="bold" fill="#262626" textLength="367.1" lengthAdjust="spacingAndGlyphs">SAT+RAP 700 hPa MR (g/kg)</text>
<g><defs><clipPath id="sw3"><polygon points="1034,114 1036,112.6 1042,113 1048,112.5 1055,112 1060,111.5 1066,111.5 1072,113 1073.5,118 1074.5,135 1076.5,155 1078.5,175 1080,196 1079,199 1034,199.5 1033.5,150" fill="#000"/></clipPath></defs><g clip-path="url(#sw3)"><g filter="url(#b1)"><polygon points="1030,108 1084,108 1084,203 1030,203" fill="#1c60ec"/><polygon points="1030,108 1080,108 1080,124 1056,124.5 1030,122" fill="#1428d8"/><ellipse cx="1046" cy="119" rx="6" ry="3" fill="#1c68f0"/><ellipse cx="1048" cy="128" rx="9" ry="2.6" fill="#30a8f8" transform="rotate(-30 1048 128)"/><ellipse cx="1046" cy="139" rx="10" ry="3" fill="#38b4f8" transform="rotate(-30 1046 139)"/><ellipse cx="1049" cy="148.5" rx="9" ry="2.6" fill="#32a4f8" transform="rotate(-30 1049 148.5)"/><ellipse cx="1046" cy="157" rx="9" ry="2.8" fill="#38b0f8" transform="rotate(-30 1046 157)"/><ellipse cx="1050" cy="164" rx="7" ry="2.2" fill="#2c98f8" transform="rotate(-30 1050 164)"/><ellipse cx="1066" cy="134" rx="9" ry="3" fill="#40d4f0" transform="rotate(-30 1066 134)"/><ellipse cx="1069" cy="144" rx="8" ry="2.6" fill="#32b4f8" transform="rotate(-30 1069 144)"/><ellipse cx="1066" cy="154" rx="8" ry="2.8" fill="#38bcf8" transform="rotate(-30 1066 154)"/><ellipse cx="1072" cy="162" rx="7" ry="2.4" fill="#2c98f8" transform="rotate(-30 1072 162)"/><ellipse cx="1075" cy="172" rx="6" ry="2.4" fill="#38b0f8" transform="rotate(-30 1075 172)"/><ellipse cx="1040" cy="133" rx="5" ry="2.4" fill="#2c98f8" transform="rotate(-30 1040 133)"/><ellipse cx="1040" cy="146" rx="5" ry="2.4" fill="#2c98f8" transform="rotate(-30 1040 146)"/><ellipse cx="1040" cy="160" rx="5" ry="2.2" fill="#2c98f8" transform="rotate(-30 1040 160)"/><ellipse cx="1075" cy="183" rx="5" ry="2.2" fill="#2c98f8" transform="rotate(-30 1075 183)"/><ellipse cx="1044" cy="174" rx="6" ry="2.4" fill="#1838e0" transform="rotate(-30 1044 174)"/><ellipse cx="1060" cy="172" rx="6" ry="2" fill="#1c44e4" transform="rotate(-30 1060 172)"/><ellipse cx="1063" cy="130" rx="3.2" ry="1.3" fill="#98f070" transform="rotate(-25 1063 130)"/><ellipse cx="1066.5" cy="139" rx="4" ry="1.5" fill="#80f088" transform="rotate(-30 1066.5 139)"/><ellipse cx="1063" cy="147.2" rx="2.6" ry="1.3" fill="#f0d424"/><ellipse cx="1054" cy="147" rx="1.4" ry="1.2" fill="#f0c424"/><ellipse cx="1052" cy="180" rx="13" ry="3.5" fill="#3ac4f8" transform="rotate(-30 1052 180)"/><ellipse cx="1056" cy="187.5" rx="11" ry="3.5" fill="#84f094" transform="rotate(-25 1056 187.5)"/><ellipse cx="1060" cy="194.5" rx="10" ry="3" fill="#f0f02c" transform="rotate(-10 1060 194.5)"/><ellipse cx="1049" cy="196" rx="5" ry="2.5" fill="#a0f078"/><ellipse cx="1070" cy="196.5" rx="4" ry="2" fill="#ff9414"/><ellipse cx="1041" cy="192" rx="3" ry="5" fill="#40d0f0"/><ellipse cx="1077.5" cy="194.5" rx="4" ry="4.5" fill="#ff5410"/><ellipse cx="1075" cy="189" rx="2.5" ry="2.5" fill="#f0d424"/></g><rect x="1030" y="105" width="7.3" height="100" fill="#fff" fill-opacity="0.5"/></g></g>
<use href="#usmap" transform="translate(1037 93.8) scale(1.00427 1.00939)"/>
<g></g>
<rect x="1285.2" y="93" width="23.7" height="219.5" fill="url(#jet)"/>
<rect x="1285.7" y="93.5" width="22.7" height="218.5" fill="none" stroke="#1a1a1a" stroke-opacity="0.8" stroke-width="1"/>
<path d="M1306.3 102.2h2.6" stroke="#222" stroke-width="0.9"/>
<text x="1318.4" y="109.7" font-size="20.4" font-weight="bold" fill="#262626" textLength="35.4" lengthAdjust="spacingAndGlyphs">1.5</text>
<path d="M1306.3 172.2h2.6" stroke="#222" stroke-width="0.9"/>
<text x="1318.4" y="179.7" font-size="20.4" font-weight="bold" fill="#262626" textLength="13.9" lengthAdjust="spacingAndGlyphs">1</text>
<path d="M1306.3 242.5h2.6" stroke="#222" stroke-width="0.9"/>
<text x="1318.4" y="250" font-size="20.4" font-weight="bold" fill="#262626" textLength="35.4" lengthAdjust="spacingAndGlyphs">0.5</text>
<text x="1318.4" y="319.7" font-size="20.4" font-weight="bold" fill="#262626" textLength="13.9" lengthAdjust="spacingAndGlyphs">0</text>
<text x="1058.3" y="75" font-size="12.2" font-weight="bold" fill="#262626" textLength="25.5" lengthAdjust="spacingAndGlyphs">100</text>
<circle cx="1088.2" cy="61.7" r="1.45" fill="none" stroke="#262626" stroke-width="0.95"/>
<text x="1096.3" y="75" font-size="12.2" font-weight="bold" fill="#262626" textLength="12.4" lengthAdjust="spacingAndGlyphs">W</text>
<text x="1127.1" y="75" font-size="12.2" font-weight="bold" fill="#262626" textLength="16.6" lengthAdjust="spacingAndGlyphs">90</text>
<circle cx="1148.1" cy="61.7" r="1.45" fill="none" stroke="#262626" stroke-width="0.95"/>
<text x="1156.2" y="75" font-size="12.2" font-weight="bold" fill="#262626" textLength="12.4" lengthAdjust="spacingAndGlyphs">W</text>
<text x="1191" y="75" font-size="12.2" font-weight="bold" fill="#262626" textLength="16.9" lengthAdjust="spacingAndGlyphs">80</text>
<circle cx="1212.3" cy="61.7" r="1.45" fill="none" stroke="#262626" stroke-width="0.95"/>
<text x="1220.4" y="75" font-size="12.2" font-weight="bold" fill="#262626" textLength="12.4" lengthAdjust="spacingAndGlyphs">W</text>
<text x="1254.5" y="75" font-size="12.2" font-weight="bold" fill="#262626" textLength="16.4" lengthAdjust="spacingAndGlyphs">70</text>
<circle cx="1275.3" cy="61.7" r="1.45" fill="none" stroke="#262626" stroke-width="0.95"/>
<text x="1283.4" y="75" font-size="12.2" font-weight="bold" fill="#262626" textLength="12.4" lengthAdjust="spacingAndGlyphs">W</text>
<text x="988.3" y="112.7" font-size="12.2" font-weight="bold" fill="#262626" textLength="17.6" lengthAdjust="spacingAndGlyphs">48</text>
<circle cx="1010.1" cy="99.8" r="1.45" fill="none" stroke="#262626" stroke-width="0.95"/>
<text x="1017.4" y="112.7" font-size="12.2" font-weight="bold" fill="#262626" textLength="10.8" lengthAdjust="spacingAndGlyphs">N</text>
<text x="988.3" y="130.7" font-size="12.2" font-weight="bold" fill="#262626" textLength="17.6" lengthAdjust="spacingAndGlyphs">46</text>
<circle cx="1010.1" cy="117.8" r="1.45" fill="none" stroke="#262626" stroke-width="0.95"/>
<text x="1017.4" y="130.7" font-size="12.2" font-weight="bold" fill="#262626" textLength="10.8" lengthAdjust="spacingAndGlyphs">N</text>
<text x="988.3" y="147.7" font-size="12.2" font-weight="bold" fill="#262626" textLength="17.6" lengthAdjust="spacingAndGlyphs">44</text>
<circle cx="1010.1" cy="134.8" r="1.45" fill="none" stroke="#262626" stroke-width="0.95"/>
<text x="1017.4" y="147.7" font-size="12.2" font-weight="bold" fill="#262626" textLength="10.8" lengthAdjust="spacingAndGlyphs">N</text>
<text x="988.3" y="167" font-size="12.2" font-weight="bold" fill="#262626" textLength="17.6" lengthAdjust="spacingAndGlyphs">42</text>
<circle cx="1010.1" cy="154.1" r="1.45" fill="none" stroke="#262626" stroke-width="0.95"/>
<text x="1017.4" y="167" font-size="12.2" font-weight="bold" fill="#262626" textLength="10.8" lengthAdjust="spacingAndGlyphs">N</text>
<text x="988.3" y="182.3" font-size="12.2" font-weight="bold" fill="#262626" textLength="17.6" lengthAdjust="spacingAndGlyphs">40</text>
<circle cx="1010.1" cy="169.4" r="1.45" fill="none" stroke="#262626" stroke-width="0.95"/>
<text x="1017.4" y="182.3" font-size="12.2" font-weight="bold" fill="#262626" textLength="10.8" lengthAdjust="spacingAndGlyphs">N</text>
<text x="988.3" y="197.7" font-size="12.2" font-weight="bold" fill="#262626" textLength="17.6" lengthAdjust="spacingAndGlyphs">38</text>
<circle cx="1010.1" cy="184.8" r="1.45" fill="none" stroke="#262626" stroke-width="0.95"/>
<text x="1017.4" y="197.7" font-size="12.2" font-weight="bold" fill="#262626" textLength="10.8" lengthAdjust="spacingAndGlyphs">N</text>
<text x="988.3" y="214.7" font-size="12.2" font-weight="bold" fill="#262626" textLength="17.6" lengthAdjust="spacingAndGlyphs">36</text>
<circle cx="1010.1" cy="201.8" r="1.45" fill="none" stroke="#262626" stroke-width="0.95"/>
<text x="1017.4" y="214.7" font-size="12.2" font-weight="bold" fill="#262626" textLength="10.8" lengthAdjust="spacingAndGlyphs">N</text>
<text x="988.3" y="228.6" font-size="12.2" font-weight="bold" fill="#262626" textLength="17.6" lengthAdjust="spacingAndGlyphs">34</text>
<circle cx="1010.1" cy="215.7" r="1.45" fill="none" stroke="#262626" stroke-width="0.95"/>
<text x="1017.4" y="228.6" font-size="12.2" font-weight="bold" fill="#262626" textLength="10.8" lengthAdjust="spacingAndGlyphs">N</text>
<text x="988.3" y="245.8" font-size="12.2" font-weight="bold" fill="#262626" textLength="17.6" lengthAdjust="spacingAndGlyphs">32</text>
<circle cx="1010.1" cy="232.9" r="1.45" fill="none" stroke="#262626" stroke-width="0.95"/>
<text x="1017.4" y="245.8" font-size="12.2" font-weight="bold" fill="#262626" textLength="10.8" lengthAdjust="spacingAndGlyphs">N</text>
<text x="988.3" y="259.4" font-size="12.2" font-weight="bold" fill="#262626" textLength="17.6" lengthAdjust="spacingAndGlyphs">30</text>
<circle cx="1010.1" cy="246.5" r="1.45" fill="none" stroke="#262626" stroke-width="0.95"/>
<text x="1017.4" y="259.4" font-size="12.2" font-weight="bold" fill="#262626" textLength="10.8" lengthAdjust="spacingAndGlyphs">N</text>
<text x="988.3" y="272.6" font-size="12.2" font-weight="bold" fill="#262626" textLength="17.6" lengthAdjust="spacingAndGlyphs">28</text>
<circle cx="1010.1" cy="259.7" r="1.45" fill="none" stroke="#262626" stroke-width="0.95"/>
<text x="1017.4" y="272.6" font-size="12.2" font-weight="bold" fill="#262626" textLength="10.8" lengthAdjust="spacingAndGlyphs">N</text>
<text x="988.3" y="287.7" font-size="12.2" font-weight="bold" fill="#262626" textLength="17.6" lengthAdjust="spacingAndGlyphs">26</text>
<circle cx="1010.1" cy="274.8" r="1.45" fill="none" stroke="#262626" stroke-width="0.95"/>
<text x="1017.4" y="287.7" font-size="12.2" font-weight="bold" fill="#262626" textLength="10.8" lengthAdjust="spacingAndGlyphs">N</text>
<text x="988.3" y="301.4" font-size="12.2" font-weight="bold" fill="#262626" textLength="17.6" lengthAdjust="spacingAndGlyphs">24</text>
<circle cx="1010.1" cy="288.5" r="1.45" fill="none" stroke="#262626" stroke-width="0.95"/>
<text x="1017.4" y="301.4" font-size="12.2" font-weight="bold" fill="#262626" textLength="10.8" lengthAdjust="spacingAndGlyphs">N</text>
<text x="988.3" y="314.7" font-size="12.2" font-weight="bold" fill="#262626" textLength="17.6" lengthAdjust="spacingAndGlyphs">22</text>
<circle cx="1010.1" cy="301.8" r="1.45" fill="none" stroke="#262626" stroke-width="0.95"/>
<text x="1017.4" y="314.7" font-size="12.2" font-weight="bold" fill="#262626" textLength="10.8" lengthAdjust="spacingAndGlyphs">N</text>
<text x="966.7" y="342" font-size="22.4" font-weight="bold" fill="#262626" textLength="366.6" lengthAdjust="spacingAndGlyphs">SAT+RAP 500 hPa MR (g/kg)</text>
<g><g filter="url(#b2)"><ellipse cx="205" cy="515.5" rx="8" ry="6.5" fill="#22e8ea" transform="rotate(-25 205 515.5)"/><ellipse cx="208.5" cy="513.5" rx="4" ry="4" fill="#22b0f8"/><ellipse cx="199.5" cy="518" rx="3" ry="4" fill="#2ceae0"/><ellipse cx="204" cy="530" rx="8" ry="5.5" fill="#30f0e2"/><ellipse cx="199.5" cy="534.5" rx="3.5" ry="4" fill="#28e0f0"/><ellipse cx="211" cy="537" rx="4" ry="6.5" fill="#50f0a4"/><ellipse cx="224.5" cy="530" rx="8" ry="9.5" fill="#44f0b4"/><ellipse cx="226" cy="534.5" rx="5" ry="4.5" fill="#94f074"/><ellipse cx="221" cy="540" rx="4" ry="2.5" fill="#60f098"/><ellipse cx="224.3" cy="545.3" rx="3.6" ry="3.6" fill="#1284f0"/><ellipse cx="227.7" cy="546.5" rx="2.8" ry="2.8" fill="#1890f4"/><ellipse cx="231" cy="544.7" rx="2.8" ry="2.8" fill="#24a8f8"/></g></g>
<use href="#usmap" transform="translate(195 485) scale(1.00000 1.00000)"/>
<g><g filter="url(#b2)"><ellipse cx="215.7" cy="508" rx="3.5" ry="3.5" fill="#e41410"/><ellipse cx="221.7" cy="516.7" rx="3.5" ry="3.5" fill="#800a08"/></g></g>
<rect x="441" y="483" width="24" height="219.7" fill="url(#jet)"/>
<rect x="441.5" y="483.5" width="23" height="218.7" fill="none" stroke="#1a1a1a" stroke-opacity="0.8" stroke-width="1"/>
<path d="M462.4 503.8h2.6" stroke="#222" stroke-width="0.9"/>
<text x="473.7" y="511.3" font-size="20.4" font-weight="bold" fill="#262626" textLength="13.9" lengthAdjust="spacingAndGlyphs">2</text>
<path d="M462.4 548.3h2.6" stroke="#222" stroke-width="0.9"/>
<text x="473.7" y="555.8" font-size="20.4" font-weight="bold" fill="#262626" textLength="13.9" lengthAdjust="spacingAndGlyphs">1</text>
<path d="M462.4 592.5h2.6" stroke="#222" stroke-width="0.9"/>
<text x="473.7" y="600" font-size="20.4" font-weight="bold" fill="#262626" textLength="13.9" lengthAdjust="spacingAndGlyphs">0</text>
<path d="M462.4 636.7h2.6" stroke="#222" stroke-width="0.9"/>
<text x="473.7" y="644.2" font-size="20.4" font-weight="bold" fill="#262626" textLength="22.2" lengthAdjust="spacingAndGlyphs">-1</text>
<path d="M462.4 681.2h2.6" stroke="#222" stroke-width="0.9"/>
<text x="473.7" y="688.7" font-size="20.4" font-weight="bold" fill="#262626" textLength="22.2" lengthAdjust="spacingAndGlyphs">-2</text>
<text x="214.8" y="467" font-size="12.2" font-weight="bold" fill="#262626" textLength="25.5" lengthAdjust="spacingAndGlyphs">100</text>
<circle cx="244.7" cy="453.7" r="1.45" fill="none" stroke="#262626" stroke-width="0.95"/>
<text x="252.8" y="467" font-size="12.2" font-weight="bold" fill="#262626" textLength="12.4" lengthAdjust="spacingAndGlyphs">W</text>
<text x="283.6" y="467" font-size="12.2" font-weight="bold" fill="#262626" textLength="16.6" lengthAdjust="spacingAndGlyphs">90</text>
<circle cx="304.6" cy="453.7" r="1.45" fill="none" stroke="#262626" stroke-width="0.95"/>
<text x="312.7" y="467" font-size="12.2" font-weight="bold" fill="#262626" textLength="12.4" lengthAdjust="spacingAndGlyphs">W</text>
<text x="347.5" y="467" font-size="12.2" font-weight="bold" fill="#262626" textLength="16.9" lengthAdjust="spacingAndGlyphs">80</text>
<circle cx="368.8" cy="453.7" r="1.45" fill="none" stroke="#262626" stroke-width="0.95"/>
<text x="376.9" y="467" font-size="12.2" font-weight="bold" fill="#262626" textLength="12.4" lengthAdjust="spacingAndGlyphs">W</text>
<text x="411" y="467" font-size="12.2" font-weight="bold" fill="#262626" textLength="16.4" lengthAdjust="spacingAndGlyphs">70</text>
<circle cx="431.8" cy="453.7" r="1.45" fill="none" stroke="#262626" stroke-width="0.95"/>
<text x="439.9" y="467" font-size="12.2" font-weight="bold" fill="#262626" textLength="12.4" lengthAdjust="spacingAndGlyphs">W</text>
<text x="145.9" y="501.8" font-size="12.2" font-weight="bold" fill="#262626" textLength="17.6" lengthAdjust="spacingAndGlyphs">48</text>
<circle cx="167.7" cy="488.9" r="1.45" fill="none" stroke="#262626" stroke-width="0.95"/>
<text x="175" y="501.8" font-size="12.2" font-weight="bold" fill="#262626" textLength="10.8" lengthAdjust="spacingAndGlyphs">N</text>
<text x="145.9" y="519.8" font-size="12.2" font-weight="bold" fill="#262626" textLength="17.6" lengthAdjust="spacingAndGlyphs">46</text>
<circle cx="167.7" cy="506.9" r="1.45" fill="none" stroke="#262626" stroke-width="0.95"/>
<text x="175" y="519.8" font-size="12.2" font-weight="bold" fill="#262626" textLength="10.8" lengthAdjust="spacingAndGlyphs">N</text>
<text x="145.9" y="536.8" font-size="12.2" font-weight="bold" fill="#262626" textLength="17.6" lengthAdjust="spacingAndGlyphs">44</text>
<circle cx="167.7" cy="523.9" r="1.45" fill="none" stroke="#262626" stroke-width="0.95"/>
<text x="175" y="536.8" font-size="12.2" font-weight="bold" fill="#262626" textLength="10.8" lengthAdjust="spacingAndGlyphs">N</text>
<text x="145.9" y="556.1" font-size="12.2" font-weight="bold" fill="#262626" textLength="17.6" lengthAdjust="spacingAndGlyphs">42</text>
<circle cx="167.7" cy="543.2" r="1.45" fill="none" stroke="#262626" stroke-width="0.95"/>
<text x="175" y="556.1" font-size="12.2" font-weight="bold" fill="#262626" textLength="10.8" lengthAdjust="spacingAndGlyphs">N</text>
<text x="145.9" y="571.4" font-size="12.2" font-weight="bold" fill="#262626" textLength="17.6" lengthAdjust="spacingAndGlyphs">40</text>
<circle cx="167.7" cy="558.5" r="1.45" fill="none" stroke="#262626" stroke-width="0.95"/>
<text x="175" y="571.4" font-size="12.2" font-weight="bold" fill="#262626" textLength="10.8" lengthAdjust="spacingAndGlyphs">N</text>
<text x="145.9" y="586.8" font-size="12.2" font-weight="bold" fill="#262626" textLength="17.6" lengthAdjust="spacingAndGlyphs">38</text>
<circle cx="167.7" cy="573.9" r="1.45" fill="none" stroke="#262626" stroke-width="0.95"/>
<text x="175" y="586.8" font-size="12.2" font-weight="bold" fill="#262626" textLength="10.8" lengthAdjust="spacingAndGlyphs">N</text>
<text x="145.9" y="603.8" font-size="12.2" font-weight="bold" fill="#262626" textLength="17.6" lengthAdjust="spacingAndGlyphs">36</text>
<circle cx="167.7" cy="590.9" r="1.45" fill="none" stroke="#262626" stroke-width="0.95"/>
<text x="175" y="603.8" font-size="12.2" font-weight="bold" fill="#262626" textLength="10.8" lengthAdjust="spacingAndGlyphs">N</text>
<text x="145.9" y="617.7" font-size="12.2" font-weight="bold" fill="#262626" textLength="17.6" lengthAdjust="spacingAndGlyphs">34</text>
<circle cx="167.7" cy="604.8" r="1.45" fill="none" stroke="#262626" stroke-width="0.95"/>
<text x="175" y="617.7" font-size="12.2" font-weight="bold" fill="#262626" textLength="10.8" lengthAdjust="spacingAndGlyphs">N</text>
<text x="145.9" y="634.9" font-size="12.2" font-weight="bold" fill="#262626" textLength="17.6" lengthAdjust="spacingAndGlyphs">32</text>
<circle cx="167.7" cy="622" r="1.45" fill="none" stroke="#262626" stroke-width="0.95"/>
<text x="175" y="634.9" font-size="12.2" font-weight="bold" fill="#262626" textLength="10.8" lengthAdjust="spacingAndGlyphs">N</text>
<text x="145.9" y="648.5" font-size="12.2" font-weight="bold" fill="#262626" textLength="17.6" lengthAdjust="spacingAndGlyphs">30</text>
<circle cx="167.7" cy="635.6" r="1.45" fill="none" stroke="#262626" stroke-width="0.95"/>
<text x="175" y="648.5" font-size="12.2" font-weight="bold" fill="#262626" textLength="10.8" lengthAdjust="spacingAndGlyphs">N</text>
<text x="145.9" y="661.7" font-size="12.2" font-weight="bold" fill="#262626" textLength="17.6" lengthAdjust="spacingAndGlyphs">28</text>
<circle cx="167.7" cy="648.8" r="1.45" fill="none" stroke="#262626" stroke-width="0.95"/>
<text x="175" y="661.7" font-size="12.2" font-weight="bold" fill="#262626" textLength="10.8" lengthAdjust="spacingAndGlyphs">N</text>
<text x="145.9" y="676.8" font-size="12.2" font-weight="bold" fill="#262626" textLength="17.6" lengthAdjust="spacingAndGlyphs">26</text>
<circle cx="167.7" cy="663.9" r="1.45" fill="none" stroke="#262626" stroke-width="0.95"/>
<text x="175" y="676.8" font-size="12.2" font-weight="bold" fill="#262626" textLength="10.8" lengthAdjust="spacingAndGlyphs">N</text>
<text x="145.9" y="690.5" font-size="12.2" font-weight="bold" fill="#262626" textLength="17.6" lengthAdjust="spacingAndGlyphs">24</text>
<circle cx="167.7" cy="677.6" r="1.45" fill="none" stroke="#262626" stroke-width="0.95"/>
<text x="175" y="690.5" font-size="12.2" font-weight="bold" fill="#262626" textLength="10.8" lengthAdjust="spacingAndGlyphs">N</text>
<text x="145.9" y="703.8" font-size="12.2" font-weight="bold" fill="#262626" textLength="17.6" lengthAdjust="spacingAndGlyphs">22</text>
<circle cx="167.7" cy="690.9" r="1.45" fill="none" stroke="#262626" stroke-width="0.95"/>
<text x="175" y="703.8" font-size="12.2" font-weight="bold" fill="#262626" textLength="10.8" lengthAdjust="spacingAndGlyphs">N</text>
<text x="128.6" y="730.7" font-size="22.4" font-weight="bold" fill="#262626" textLength="358.1" lengthAdjust="spacingAndGlyphs">SAT-RAP 850 hPa MR (g/kg)</text>
<g><g filter="url(#b2)"><ellipse cx="620" cy="516.7" rx="4" ry="4" fill="#1244e0"/><ellipse cx="624.7" cy="514.7" rx="3.5" ry="3.5" fill="#84f084"/><ellipse cx="631" cy="518.7" rx="3" ry="3" fill="#7cf088"/><ellipse cx="646.7" cy="512.7" rx="2.5" ry="2.5" fill="#30c8f8"/><ellipse cx="625" cy="540" rx="8" ry="14" fill="#7cf08c"/><ellipse cx="619.5" cy="527.5" rx="3.5" ry="3" fill="#2484f0"/><ellipse cx="627" cy="528.5" rx="5" ry="2" fill="#30c0f0"/><ellipse cx="616" cy="545" rx="2.5" ry="16" fill="#34e0f0"/><ellipse cx="624" cy="556" rx="8" ry="9" fill="#34f0c4"/><ellipse cx="629" cy="538.5" rx="4.5" ry="4.5" fill="#f0f024"/><ellipse cx="632" cy="536" rx="2.5" ry="4" fill="#ffa414"/><ellipse cx="627" cy="546" rx="3" ry="2.5" fill="#d0f040"/><ellipse cx="645.5" cy="530" rx="8.5" ry="10" fill="#c4f044" transform="rotate(30 645.5 530)"/><ellipse cx="648.5" cy="524" rx="5" ry="5" fill="#f8e81c"/><ellipse cx="644.5" cy="528" rx="5" ry="4" fill="#ff9414" transform="rotate(-30 644.5 528)"/><ellipse cx="640.5" cy="532" rx="3" ry="2.2" fill="#f83410" transform="rotate(-30 640.5 532)"/><ellipse cx="648" cy="533" rx="4" ry="3" fill="#f0e428"/><ellipse cx="644.7" cy="545.3" rx="3.5" ry="3.5" fill="#44f0c4"/><ellipse cx="650" cy="544.7" rx="3.2" ry="3.2" fill="#48f0c0"/><ellipse cx="640" cy="543" rx="1.5" ry="1.5" fill="#a0f070"/><ellipse cx="620.7" cy="562" rx="4.5" ry="3.5" fill="#2484f0"/><ellipse cx="626" cy="566" rx="4" ry="3.5" fill="#30b4f8"/><ellipse cx="621" cy="567.5" rx="3.5" ry="2" fill="#50f0b0"/><ellipse cx="616" cy="568" rx="2" ry="5" fill="#2890f0"/><ellipse cx="623.3" cy="576.7" rx="5" ry="5" fill="#1464f0"/><ellipse cx="628" cy="583.5" rx="4.5" ry="4.5" fill="#30e0f0"/><ellipse cx="621.5" cy="583.5" rx="3.5" ry="3.5" fill="#1c70f0"/><ellipse cx="616.5" cy="590" rx="2" ry="2" fill="#1450e0"/></g><g filter="url(#b2)"><ellipse cx="641.3" cy="504.7" rx="3.6" ry="3.6" fill="#1240e8"/><ellipse cx="637.3" cy="508" rx="3" ry="3" fill="#1444e8"/><ellipse cx="630" cy="510.3" rx="4" ry="4" fill="#1448e8"/><ellipse cx="634" cy="511.5" rx="3" ry="3" fill="#1444e8"/></g></g>
<use href="#usmap" transform="translate(616 485) scale(1.00000 1.00000)"/>
<g><g filter="url(#b2)"><ellipse cx="642.3" cy="515" rx="3.5" ry="3.5" fill="#800a08"/></g></g>
<rect x="862.3" y="483" width="23.5" height="219.7" fill="url(#jet)"/>
<rect x="862.8" y="483.5" width="22.5" height="218.7" fill="none" stroke="#1a1a1a" stroke-opacity="0.8" stroke-width="1"/>
<path d="M883.2 526.5h2.6" stroke="#222" stroke-width="0.9"/>
<text x="894.9" y="534" font-size="20.4" font-weight="bold" fill="#262626" textLength="13.9" lengthAdjust="spacingAndGlyphs">1</text>
<path d="M883.2 592.5h2.6" stroke="#222" stroke-width="0.9"/>
<text x="894.9" y="600" font-size="20.4" font-weight="bold" fill="#262626" textLength="13.9" lengthAdjust="spacingAndGlyphs">0</text>
<path d="M883.2 658.8h2.6" stroke="#222" stroke-width="0.9"/>
<text x="894.9" y="666.3" font-size="20.4" font-weight="bold" fill="#262626" textLength="22.2" lengthAdjust="spacingAndGlyphs">-1</text>
<text x="635.8" y="467" font-size="12.2" font-weight="bold" fill="#262626" textLength="25.5" lengthAdjust="spacingAndGlyphs">100</text>
<circle cx="665.7" cy="453.7" r="1.45" fill="none" stroke="#262626" stroke-width="0.95"/>
<text x="673.8" y="467" font-size="12.2" font-weight="bold" fill="#262626" textLength="12.4" lengthAdjust="spacingAndGlyphs">W</text>
<text x="704.6" y="467" font-size="12.2" font-weight="bold" fill="#262626" textLength="16.6" lengthAdjust="spacingAndGlyphs">90</text>
<circle cx="725.6" cy="453.7" r="1.45" fill="none" stroke="#262626" stroke-width="0.95"/>
<text x="733.7" y="467" font-size="12.2" font-weight="bold" fill="#262626" textLength="12.4" lengthAdjust="spacingAndGlyphs">W</text>
<text x="768.5" y="467" font-size="12.2" font-weight="bold" fill="#262626" textLength="16.9" lengthAdjust="spacingAndGlyphs">80</text>
<circle cx="789.8" cy="453.7" r="1.45" fill="none" stroke="#262626" stroke-width="0.95"/>
<text x="797.9" y="467" font-size="12.2" font-weight="bold" fill="#262626" textLength="12.4" lengthAdjust="spacingAndGlyphs">W</text>
<text x="832" y="467" font-size="12.2" font-weight="bold" fill="#262626" textLength="16.4" lengthAdjust="spacingAndGlyphs">70</text>
<circle cx="852.8" cy="453.7" r="1.45" fill="none" stroke="#262626" stroke-width="0.95"/>
<text x="860.9" y="467" font-size="12.2" font-weight="bold" fill="#262626" textLength="12.4" lengthAdjust="spacingAndGlyphs">W</text>
<text x="566.9" y="501.8" font-size="12.2" font-weight="bold" fill="#262626" textLength="17.6" lengthAdjust="spacingAndGlyphs">48</text>
<circle cx="588.7" cy="488.9" r="1.45" fill="none" stroke="#262626" stroke-width="0.95"/>
<text x="596" y="501.8" font-size="12.2" font-weight="bold" fill="#262626" textLength="10.8" lengthAdjust="spacingAndGlyphs">N</text>
<text x="566.9" y="519.8" font-size="12.2" font-weight="bold" fill="#262626" textLength="17.6" lengthAdjust="spacingAndGlyphs">46</text>
<circle cx="588.7" cy="506.9" r="1.45" fill="none" stroke="#262626" stroke-width="0.95"/>
<text x="596" y="519.8" font-size="12.2" font-weight="bold" fill="#262626" textLength="10.8" lengthAdjust="spacingAndGlyphs">N</text>
<text x="566.9" y="536.8" font-size="12.2" font-weight="bold" fill="#262626" textLength="17.6" lengthAdjust="spacingAndGlyphs">44</text>
<circle cx="588.7" cy="523.9" r="1.45" fill="none" stroke="#262626" stroke-width="0.95"/>
<text x="596" y="536.8" font-size="12.2" font-weight="bold" fill="#262626" textLength="10.8" lengthAdjust="spacingAndGlyphs">N</text>
<text x="566.9" y="556.1" font-size="12.2" font-weight="bold" fill="#262626" textLength="17.6" lengthAdjust="spacingAndGlyphs">42</text>
<circle cx="588.7" cy="543.2" r="1.45" fill="none" stroke="#262626" stroke-width="0.95"/>
<text x="596" y="556.1" font-size="12.2" font-weight="bold" fill="#262626" textLength="10.8" lengthAdjust="spacingAndGlyphs">N</text>
<text x="566.9" y="571.4" font-size="12.2" font-weight="bold" fill="#262626" textLength="17.6" lengthAdjust="spacingAndGlyphs">40</text>
<circle cx="588.7" cy="558.5" r="1.45" fill="none" stroke="#262626" stroke-width="0.95"/>
<text x="596" y="571.4" font-size="12.2" font-weight="bold" fill="#262626" textLength="10.8" lengthAdjust="spacingAndGlyphs">N</text>
<text x="566.9" y="586.8" font-size="12.2" font-weight="bold" fill="#262626" textLength="17.6" lengthAdjust="spacingAndGlyphs">38</text>
<circle cx="588.7" cy="573.9" r="1.45" fill="none" stroke="#262626" stroke-width="0.95"/>
<text x="596" y="586.8" font-size="12.2" font-weight="bold" fill="#262626" textLength="10.8" lengthAdjust="spacingAndGlyphs">N</text>
<text x="566.9" y="603.8" font-size="12.2" font-weight="bold" fill="#262626" textLength="17.6" lengthAdjust="spacingAndGlyphs">36</text>
<circle cx="588.7" cy="590.9" r="1.45" fill="none" stroke="#262626" stroke-width="0.95"/>
<text x="596" y="603.8" font-size="12.2" font-weight="bold" fill="#262626" textLength="10.8" lengthAdjust="spacingAndGlyphs">N</text>
<text x="566.9" y="617.7" font-size="12.2" font-weight="bold" fill="#262626" textLength="17.6" lengthAdjust="spacingAndGlyphs">34</text>
<circle cx="588.7" cy="604.8" r="1.45" fill="none" stroke="#262626" stroke-width="0.95"/>
<text x="596" y="617.7" font-size="12.2" font-weight="bold" fill="#262626" textLength="10.8" lengthAdjust="spacingAndGlyphs">N</text>
<text x="566.9" y="634.9" font-size="12.2" font-weight="bold" fill="#262626" textLength="17.6" lengthAdjust="spacingAndGlyphs">32</text>
<circle cx="588.7" cy="622" r="1.45" fill="none" stroke="#262626" stroke-width="0.95"/>
<text x="596" y="634.9" font-size="12.2" font-weight="bold" fill="#262626" textLength="10.8" lengthAdjust="spacingAndGlyphs">N</text>
<text x="566.9" y="648.5" font-size="12.2" font-weight="bold" fill="#262626" textLength="17.6" lengthAdjust="spacingAndGlyphs">30</text>
<circle cx="588.7" cy="635.6" r="1.45" fill="none" stroke="#262626" stroke-width="0.95"/>
<text x="596" y="648.5" font-size="12.2" font-weight="bold" fill="#262626" textLength="10.8" lengthAdjust="spacingAndGlyphs">N</text>
<text x="566.9" y="661.7" font-size="12.2" font-weight="bold" fill="#262626" textLength="17.6" lengthAdjust="spacingAndGlyphs">28</text>
<circle cx="588.7" cy="648.8" r="1.45" fill="none" stroke="#262626" stroke-width="0.95"/>
<text x="596" y="661.7" font-size="12.2" font-weight="bold" fill="#262626" textLength="10.8" lengthAdjust="spacingAndGlyphs">N</text>
<text x="566.9" y="676.8" font-size="12.2" font-weight="bold" fill="#262626" textLength="17.6" lengthAdjust="spacingAndGlyphs">26</text>
<circle cx="588.7" cy="663.9" r="1.45" fill="none" stroke="#262626" stroke-width="0.95"/>
<text x="596" y="676.8" font-size="12.2" font-weight="bold" fill="#262626" textLength="10.8" lengthAdjust="spacingAndGlyphs">N</text>
<text x="566.9" y="690.5" font-size="12.2" font-weight="bold" fill="#262626" textLength="17.6" lengthAdjust="spacingAndGlyphs">24</text>
<circle cx="588.7" cy="677.6" r="1.45" fill="none" stroke="#262626" stroke-width="0.95"/>
<text x="596" y="690.5" font-size="12.2" font-weight="bold" fill="#262626" textLength="10.8" lengthAdjust="spacingAndGlyphs">N</text>
<text x="566.9" y="703.8" font-size="12.2" font-weight="bold" fill="#262626" textLength="17.6" lengthAdjust="spacingAndGlyphs">22</text>
<circle cx="588.7" cy="690.9" r="1.45" fill="none" stroke="#262626" stroke-width="0.95"/>
<text x="596" y="703.8" font-size="12.2" font-weight="bold" fill="#262626" textLength="10.8" lengthAdjust="spacingAndGlyphs">N</text>
<text x="549.6" y="730.7" font-size="22.4" font-weight="bold" fill="#262626" textLength="358.1" lengthAdjust="spacingAndGlyphs">SAT-RAP 700 hPa MR (g/kg)</text>
<g><g filter="url(#b2)"><polygon points="1058.5,503 1062,500.5 1067,500.8 1072.5,503.5 1073.2,510 1071,513 1058.5,513" fill="#1424da"/><ellipse cx="1064" cy="514" rx="6" ry="3" fill="#1460f0"/><ellipse cx="1063" cy="517.5" rx="4" ry="2.5" fill="#30c8f8"/><ellipse cx="1047" cy="511" rx="8" ry="8.5" fill="#60f0a4"/><ellipse cx="1046" cy="514.5" rx="5" ry="3" fill="#c4f044"/><ellipse cx="1041" cy="517" rx="3" ry="4" fill="#b0f060"/><ellipse cx="1047" cy="530" rx="9" ry="7" fill="#40f0c8"/><ellipse cx="1040" cy="535" rx="3" ry="8" fill="#30c8f8"/><ellipse cx="1045" cy="545" rx="7" ry="6.5" fill="#f8e024"/><ellipse cx="1051" cy="536.5" rx="6.5" ry="2.6" fill="#e84410" transform="rotate(-33 1051 536.5)"/><ellipse cx="1054.5" cy="534.5" rx="2.5" ry="1.8" fill="#901008" transform="rotate(-33 1054.5 534.5)"/><ellipse cx="1046" cy="541" rx="4" ry="2" fill="#ffa414" transform="rotate(-30 1046 541)"/><ellipse cx="1046" cy="554" rx="7" ry="4" fill="#30e0f0"/><ellipse cx="1040" cy="552" rx="2.5" ry="5" fill="#50e8d0"/><ellipse cx="1066.5" cy="529.5" rx="8.5" ry="10" fill="#f8dc1c" transform="rotate(30 1066.5 529.5)"/><ellipse cx="1065.5" cy="527" rx="5.5" ry="3.6" fill="#ff9414" transform="rotate(-35 1065.5 527)"/><ellipse cx="1070" cy="523.5" rx="3.5" ry="3.5" fill="#f8d81c"/><ellipse cx="1063.5" cy="536.5" rx="3.5" ry="1.2" fill="#901008" transform="rotate(-15 1063.5 536.5)"/><ellipse cx="1066" cy="534" rx="5" ry="1.5" fill="#ffb020" transform="rotate(-20 1066 534)"/><ellipse cx="1066.3" cy="545.3" rx="4" ry="4" fill="#30d0f8"/><ellipse cx="1073" cy="544.7" rx="3" ry="3" fill="#f8b424"/><ellipse cx="1073" cy="556" rx="4.5" ry="4.5" fill="#f8ac1c"/><ellipse cx="1044" cy="568" rx="6" ry="11" fill="#60f0b4"/><ellipse cx="1042.5" cy="568.3" rx="2.5" ry="0.8" fill="#ff9414"/><ellipse cx="1037" cy="580" rx="2" ry="6" fill="#c8f048"/><ellipse cx="1047" cy="578.7" rx="4" ry="4" fill="#1474f0"/><ellipse cx="1048.5" cy="583.5" rx="3.5" ry="3.5" fill="#30d8f0"/><ellipse cx="1043" cy="584.7" rx="3.5" ry="3.5" fill="#30d0f0"/></g></g>
<use href="#usmap" transform="translate(1037 483.8) scale(1.00427 1.00939)"/>
<g></g>
<rect x="1285.2" y="483" width="23.7" height="219.7" fill="url(#jet)"/>
<rect x="1285.7" y="483.5" width="22.7" height="218.7" fill="none" stroke="#1a1a1a" stroke-opacity="0.8" stroke-width="1"/>
<path d="M1306.3 514.6h2.6" stroke="#222" stroke-width="0.9"/>
<text x="1318.4" y="522.1" font-size="20.4" font-weight="bold" fill="#262626" textLength="35.4" lengthAdjust="spacingAndGlyphs">0.5</text>
<path d="M1306.3 592.5h2.6" stroke="#222" stroke-width="0.9"/>
<text x="1318.4" y="600" font-size="20.4" font-weight="bold" fill="#262626" textLength="13.9" lengthAdjust="spacingAndGlyphs">0</text>
<path d="M1306.3 670.2h2.6" stroke="#222" stroke-width="0.9"/>
<text x="1318.4" y="677.7" font-size="20.4" font-weight="bold" fill="#262626" textLength="43.7" lengthAdjust="spacingAndGlyphs">-0.5</text>
<text x="1058.3" y="465" font-size="12.2" font-weight="bold" fill="#262626" textLength="25.5" lengthAdjust="spacingAndGlyphs">100</text>
<circle cx="1088.2" cy="451.7" r="1.45" fill="none" stroke="#262626" stroke-width="0.95"/>
<text x="1096.3" y="465" font-size="12.2" font-weight="bold" fill="#262626" textLength="12.4" lengthAdjust="spacingAndGlyphs">W</text>
<text x="1127.1" y="465" font-size="12.2" font-weight="bold" fill="#262626" textLength="16.6" lengthAdjust="spacingAndGlyphs">90</text>
<circle cx="1148.1" cy="451.7" r="1.45" fill="none" stroke="#262626" stroke-width="0.95"/>
<text x="1156.2" y="465" font-size="12.2" font-weight="bold" fill="#262626" textLength="12.4" lengthAdjust="spacingAndGlyphs">W</text>
<text x="1191" y="465" font-size="12.2" font-weight="bold" fill="#262626" textLength="16.9" lengthAdjust="spacingAndGlyphs">80</text>
<circle cx="1212.3" cy="451.7" r="1.45" fill="none" stroke="#262626" stroke-width="0.95"/>
<text x="1220.4" y="465" font-size="12.2" font-weight="bold" fill="#262626" textLength="12.4" lengthAdjust="spacingAndGlyphs">W</text>
<text x="1254.5" y="465" font-size="12.2" font-weight="bold" fill="#262626" textLength="16.4" lengthAdjust="spacingAndGlyphs">70</text>
<circle cx="1275.3" cy="451.7" r="1.45" fill="none" stroke="#262626" stroke-width="0.95"/>
<text x="1283.4" y="465" font-size="12.2" font-weight="bold" fill="#262626" textLength="12.4" lengthAdjust="spacingAndGlyphs">W</text>
<text x="988.3" y="501.8" font-size="12.2" font-weight="bold" fill="#262626" textLength="17.6" lengthAdjust="spacingAndGlyphs">48</text>
<circle cx="1010.1" cy="488.9" r="1.45" fill="none" stroke="#262626" stroke-width="0.95"/>
<text x="1017.4" y="501.8" font-size="12.2" font-weight="bold" fill="#262626" textLength="10.8" lengthAdjust="spacingAndGlyphs">N</text>
<text x="988.3" y="519.8" font-size="12.2" font-weight="bold" fill="#262626" textLength="17.6" lengthAdjust="spacingAndGlyphs">46</text>
<circle cx="1010.1" cy="506.9" r="1.45" fill="none" stroke="#262626" stroke-width="0.95"/>
<text x="1017.4" y="519.8" font-size="12.2" font-weight="bold" fill="#262626" textLength="10.8" lengthAdjust="spacingAndGlyphs">N</text>
<text x="988.3" y="536.8" font-size="12.2" font-weight="bold" fill="#262626" textLength="17.6" lengthAdjust="spacingAndGlyphs">44</text>
<circle cx="1010.1" cy="523.9" r="1.45" fill="none" stroke="#262626" stroke-width="0.95"/>
<text x="1017.4" y="536.8" font-size="12.2" font-weight="bold" fill="#262626" textLength="10.8" lengthAdjust="spacingAndGlyphs">N</text>
<text x="988.3" y="556.1" font-size="12.2" font-weight="bold" fill="#262626" textLength="17.6" lengthAdjust="spacingAndGlyphs">42</text>
<circle cx="1010.1" cy="543.2" r="1.45" fill="none" stroke="#262626" stroke-width="0.95"/>
<text x="1017.4" y="556.1" font-size="12.2" font-weight="bold" fill="#262626" textLength="10.8" lengthAdjust="spacingAndGlyphs">N</text>
<text x="988.3" y="571.4" font-size="12.2" font-weight="bold" fill="#262626" textLength="17.6" lengthAdjust="spacingAndGlyphs">40</text>
<circle cx="1010.1" cy="558.5" r="1.45" fill="none" stroke="#262626" stroke-width="0.95"/>
<text x="1017.4" y="571.4" font-size="12.2" font-weight="bold" fill="#262626" textLength="10.8" lengthAdjust="spacingAndGlyphs">N</text>
<text x="988.3" y="586.8" font-size="12.2" font-weight="bold" fill="#262626" textLength="17.6" lengthAdjust="spacingAndGlyphs">38</text>
<circle cx="1010.1" cy="573.9" r="1.45" fill="none" stroke="#262626" stroke-width="0.95"/>
<text x="1017.4" y="586.8" font-size="12.2" font-weight="bold" fill="#262626" textLength="10.8" lengthAdjust="spacingAndGlyphs">N</text>
<text x="988.3" y="603.8" font-size="12.2" font-weight="bold" fill="#262626" textLength="17.6" lengthAdjust="spacingAndGlyphs">36</text>
<circle cx="1010.1" cy="590.9" r="1.45" fill="none" stroke="#262626" stroke-width="0.95"/>
<text x="1017.4" y="603.8" font-size="12.2" font-weight="bold" fill="#262626" textLength="10.8" lengthAdjust="spacingAndGlyphs">N</text>
<text x="988.3" y="617.7" font-size="12.2" font-weight="bold" fill="#262626" textLength="17.6" lengthAdjust="spacingAndGlyphs">34</text>
<circle cx="1010.1" cy="604.8" r="1.45" fill="none" stroke="#262626" stroke-width="0.95"/>
<text x="1017.4" y="617.7" font-size="12.2" font-weight="bold" fill="#262626" textLength="10.8" lengthAdjust="spacingAndGlyphs">N</text>
<text x="988.3" y="634.9" font-size="12.2" font-weight="bold" fill="#262626" textLength="17.6" lengthAdjust="spacingAndGlyphs">32</text>
<circle cx="1010.1" cy="622" r="1.45" fill="none" stroke="#262626" stroke-width="0.95"/>
<text x="1017.4" y="634.9" font-size="12.2" font-weight="bold" fill="#262626" textLength="10.8" lengthAdjust="spacingAndGlyphs">N</text>
<text x="988.3" y="648.5" font-size="12.2" font-weight="bold" fill="#262626" textLength="17.6" lengthAdjust="spacingAndGlyphs">30</text>
<circle cx="1010.1" cy="635.6" r="1.45" fill="none" stroke="#262626" stroke-width="0.95"/>
<text x="1017.4" y="648.5" font-size="12.2" font-weight="bold" fill="#262626" textLength="10.8" lengthAdjust="spacingAndGlyphs">N</text>
<text x="988.3" y="661.7" font-size="12.2" font-weight="bold" fill="#262626" textLength="17.6" lengthAdjust="spacingAndGlyphs">28</text>
<circle cx="1010.1" cy="648.8" r="1.45" fill="none" stroke="#262626" stroke-width="0.95"/>
<text x="1017.4" y="661.7" font-size="12.2" font-weight="bold" fill="#262626" textLength="10.8" lengthAdjust="spacingAndGlyphs">N</text>
<text x="988.3" y="676.8" font-size="12.2" font-weight="bold" fill="#262626" textLength="17.6" lengthAdjust="spacingAndGlyphs">26</text>
<circle cx="1010.1" cy="663.9" r="1.45" fill="none" stroke="#262626" stroke-width="0.95"/>
<text x="1017.4" y="676.8" font-size="12.2" font-weight="bold" fill="#262626" textLength="10.8" lengthAdjust="spacingAndGlyphs">N</text>
<text x="988.3" y="690.5" font-size="12.2" font-weight="bold" fill="#262626" textLength="17.6" lengthAdjust="spacingAndGlyphs">24</text>
<circle cx="1010.1" cy="677.6" r="1.45" fill="none" stroke="#262626" stroke-width="0.95"/>
<text x="1017.4" y="690.5" font-size="12.2" font-weight="bold" fill="#262626" textLength="10.8" lengthAdjust="spacingAndGlyphs">N</text>
<text x="988.3" y="703.8" font-size="12.2" font-weight="bold" fill="#262626" textLength="17.6" lengthAdjust="spacingAndGlyphs">22</text>
<circle cx="1010.1" cy="690.9" r="1.45" fill="none" stroke="#262626" stroke-width="0.95"/>
<text x="1017.4" y="703.8" font-size="12.2" font-weight="bold" fill="#262626" textLength="10.8" lengthAdjust="spacingAndGlyphs">N</text>
<text x="971.2" y="732" font-size="22.4" font-weight="bold" fill="#262626" textLength="358.1" lengthAdjust="spacingAndGlyphs">SAT-RAP 500 hPa MR (g/kg)</text>
</svg></body></html>
